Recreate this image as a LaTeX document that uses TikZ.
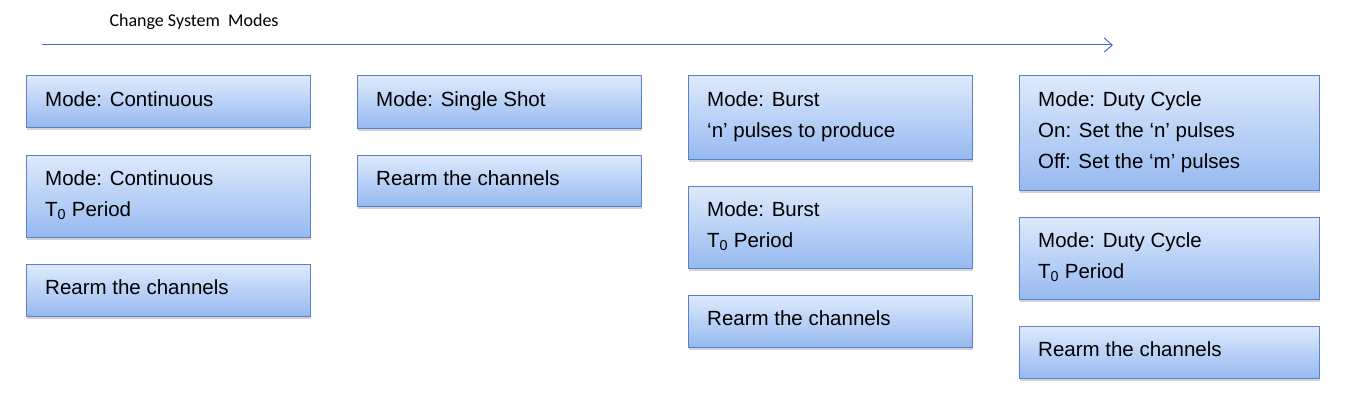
\documentclass[tikz,border=0pt]{standalone}
\usepackage{fontspec}
\setmainfont{Liberation Sans}
\newfontfamily\titlefont{Carlito}
\usetikzlibrary{shadows,arrows.meta}
\definecolor{bord}{RGB}{90,130,200}
\definecolor{topc}{RGB}{222,234,252}
\definecolor{botc}{RGB}{150,185,240}
\definecolor{arr}{RGB}{70,114,196}
\tikzset{
 box/.style={draw=bord,line width=1pt,top color=topc,bottom color=botc,drop shadow={shadow xshift=1pt,shadow yshift=-3pt,opacity=0.35}},
 txt/.style={anchor=north west,align=left,font=\fontsize{20.5}{31}\selectfont,inner sep=0pt}
}
\newcommand{\mybox}[6]{%
 \path[box] (#1,#2) rectangle (#3,#4);
 \node[txt] (#5) at (#1+19,#2+15) {#6};}
\begin{document}
\begin{tikzpicture}[x=1pt,y=-1pt]
\useasboundingbox (0,0) rectangle (1345,404);
\node[font=\titlefont\fontsize{18}{20}\selectfont,anchor=west] (title) at (106,22) {Change System\ \ Modes};
\coordinate (as) at (42,45); \coordinate (ae) at (1113,45);
\draw[arr,line width=1pt,-{Straight Barb[length=8pt,width=14pt]}] (as) -- (ae);
\mybox{26}{76}{310}{127}{a1}{Mode: Continuous}
\mybox{26}{155}{310}{237}{a2}{Mode: Continuous\\T\textsubscript{0} Period}
\mybox{26}{264}{310}{316}{a3}{Rearm\ the channels}
\mybox{357}{76}{641}{128}{b1}{Mode: Single Shot}
\mybox{357}{155}{641}{206}{b2}{Rearm\ the channels}
\mybox{688}{76}{972}{159}{c1}{Mode: Burst\\‘n’ pulses to produce}
\mybox{688}{186}{972}{268}{c2}{Mode: Burst\\T\textsubscript{0} Period}
\mybox{688}{295}{972}{347}{c3}{Rearm\ the channels}
\mybox{1019}{76}{1319}{190}{d1}{Mode: Duty Cycle\\On: Set the ‘n’ pulses\\Off: Set the ‘m’ pulses}
\mybox{1019}{217}{1319}{299}{d2}{Mode: Duty Cycle\\T\textsubscript{0} Period}
\mybox{1019}{326}{1319}{378}{d3}{Rearm\ the channels}
\end{tikzpicture}
\end{document}
